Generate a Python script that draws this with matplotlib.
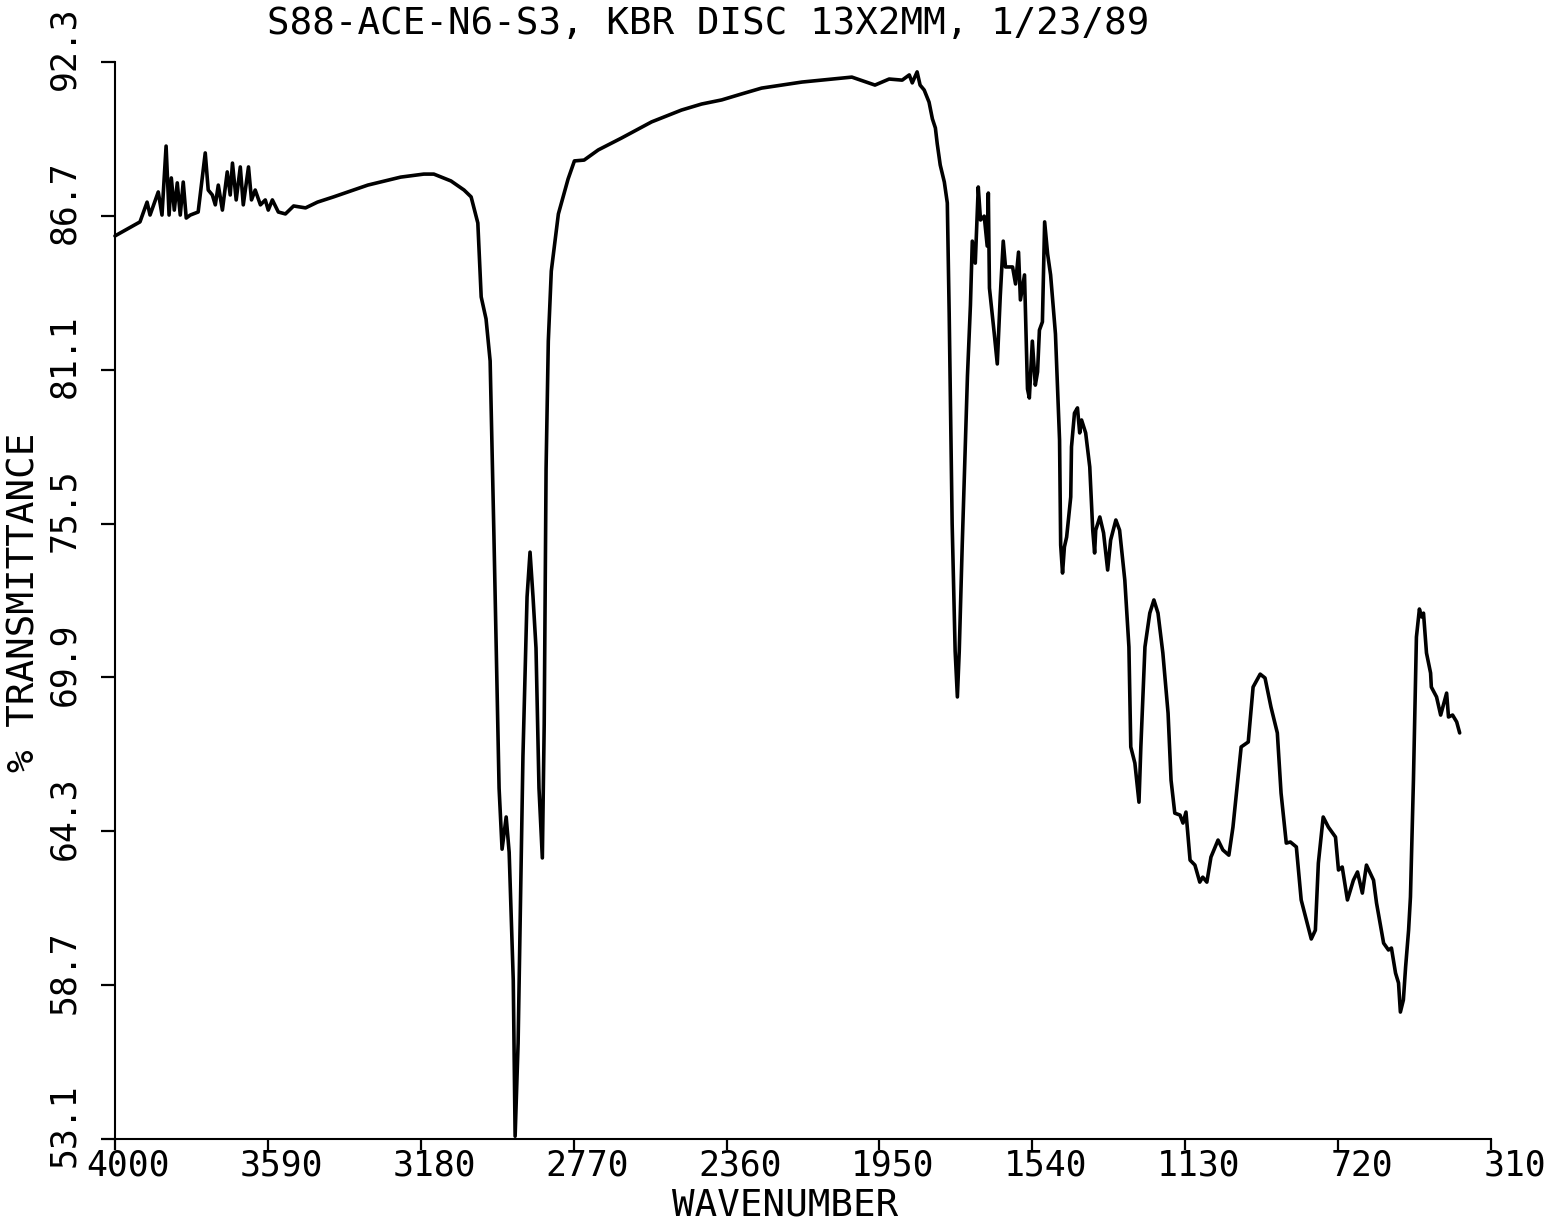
import matplotlib
matplotlib.use("Agg")
import matplotlib.pyplot as plt
from matplotlib.transforms import offset_copy

# ---------------- data ----------------
wavenumber = [
    4000, 3933, 3914, 3906, 3884, 3874, 3863, 3855, 3849, 3841, 3833, 3825, 3817, 3809,
    3798, 3777, 3758, 3750, 3739, 3731, 3723, 3712, 3699, 3691, 3685, 3675, 3664, 3656,
    3642, 3634, 3624, 3610, 3597, 3589, 3578, 3562, 3543, 3521, 3489, 3457, 3414, 3322,
    3234, 3172, 3145, 3099, 3064, 3045, 3027, 3018, 3005, 2994, 2984, 2970, 2962, 2951,
    2943, 2932, 2927, 2919, 2906, 2895, 2887, 2879, 2871, 2863, 2854, 2849, 2844, 2838,
    2830, 2811, 2785, 2768, 2742, 2704, 2642, 2561, 2481, 2427, 2373, 2319, 2266, 2158,
    2077, 2024, 1962, 1924, 1889, 1870, 1862, 1849, 1841, 1830, 1817, 1808, 1800, 1795,
    1787, 1776, 1768, 1763, 1755, 1747, 1741, 1736, 1728, 1714, 1706, 1701, 1693, 1685,
    1679, 1669, 1661, 1658, 1655, 1642, 1634, 1626, 1618, 1612, 1593, 1585, 1577, 1572,
    1561, 1553, 1548, 1540, 1532, 1526, 1521, 1513, 1507, 1499, 1491, 1478, 1467, 1464,
    1459, 1454, 1448, 1437, 1435, 1427, 1419, 1413, 1408, 1397, 1386, 1378, 1373, 1370,
    1359, 1349, 1338, 1330, 1316, 1306, 1292, 1281, 1276, 1265, 1254, 1249, 1238, 1225,
    1214, 1203, 1190, 1176, 1168, 1158, 1144, 1136, 1128, 1117, 1104, 1091, 1083, 1072,
    1061, 1042, 1029, 1013, 1002, 980, 961, 948, 929, 916, 900, 883, 873, 859,
    848, 832, 819, 805, 792, 781, 773, 760, 746, 727, 719, 709, 695, 679,
    668, 655, 644, 625, 617, 598, 585, 577, 566, 558, 553, 545, 539, 531,
    526, 518, 510, 502, 496, 491, 483, 472, 470, 456, 445, 429, 424, 413,
    402, 394,
]
transmittance = [
    85.97, 86.48, 87.20, 86.73, 87.57, 86.73, 89.24, 86.73, 88.08, 86.91, 87.90, 86.73, 87.93, 86.62,
    86.73, 86.84, 88.99, 87.64, 87.46, 87.10, 87.82, 86.91, 88.30, 87.46, 88.62, 87.28, 88.48, 87.10,
    88.48, 87.28, 87.64, 87.10, 87.28, 86.91, 87.28, 86.84, 86.77, 87.06, 86.99, 87.20, 87.39, 87.82,
    88.11, 88.22, 88.22, 87.97, 87.64, 87.39, 86.44, 83.75, 82.95, 81.42, 75.16, 65.87, 63.65, 64.82,
    63.54, 58.88, 53.20, 56.59, 67.04, 72.83, 74.46, 72.83, 70.97, 65.87, 63.33, 68.20, 77.49, 82.14,
    84.69, 86.77, 88.04, 88.70, 88.73, 89.10, 89.53, 90.12, 90.55, 90.77, 90.92, 91.14, 91.35, 91.57,
    91.68, 91.75, 91.46, 91.68, 91.64, 91.83, 91.54, 91.94, 91.46, 91.28, 90.84, 90.23, 89.90, 89.32,
    88.55, 87.93, 87.17, 83.16, 75.48, 70.86, 69.19, 70.86, 74.72, 80.87, 83.45, 85.78, 84.98, 87.75,
    86.55, 86.69, 85.60, 87.53, 84.07, 82.40, 81.31, 83.78, 85.78, 84.84, 84.84, 84.22, 85.38, 83.64,
    84.55, 80.40, 80.07, 82.14, 80.54, 81.02, 82.54, 82.84, 86.48, 85.31, 84.55, 82.40, 78.54, 74.72,
    73.70, 74.65, 75.01, 76.47, 78.29, 79.52, 79.71, 78.80, 79.27, 78.80, 77.56, 75.26, 74.43, 75.26,
    75.74, 75.16, 73.81, 74.90, 75.63, 75.26, 73.44, 71.01, 67.37, 66.78, 65.36, 67.37, 71.01, 72.24,
    72.72, 72.24, 70.79, 68.60, 66.16, 64.96, 64.89, 64.60, 65.00, 63.25, 63.07, 62.45, 62.63, 62.45,
    63.36, 63.98, 63.62, 63.43, 64.45, 67.37, 67.55, 69.55, 70.02, 69.88, 68.82, 67.88, 65.69, 63.87,
    63.91, 63.73, 61.80, 61.07, 60.38, 60.70, 63.14, 64.82, 64.45, 64.09, 62.89, 63.00, 61.80, 62.52,
    62.82, 62.05, 63.07, 62.52, 61.69, 60.23, 59.98, 60.05, 59.14, 58.78, 57.72, 58.16, 59.36, 60.70,
    61.91, 66.16, 71.37, 72.39, 72.10, 72.24, 70.79, 70.06, 69.55, 69.19, 68.53, 69.33, 68.46, 68.53,
    68.28, 67.88,
]

x_ticks = [4000, 3590, 3180, 2770, 2360, 1950, 1540, 1130, 720, 310]
x_tick_labels = ["4000", "3590", "3180", "2770", "2360", "1950", "1540", "1130", "720", "310"]
y_ticks = [53.1, 58.7, 64.3, 69.9, 75.5, 81.1, 86.7, 92.3]
y_tick_labels = ["53.1", "58.7", "64.3", "69.9", "75.5", "81.1", "86.7", "92.3"]

title_text = "S88-ACE-N6-S3, KBR DISC 13X2MM, 1/23/89"
x_label = "WAVENUMBER"
y_label = "% TRANSMITTANCE"

# ---------------- figure ----------------
W, H = 1562, 1228
DPI = 100
FONT = "DejaVu Sans Mono"
plt.rcParams["font.family"] = [FONT, "DejaVu Sans"]

fig = plt.figure(figsize=(W / DPI, H / DPI), dpi=DPI)
ax = fig.add_axes([115 / W, 1 - 1139 / H, (1491 - 115) / W, (1139 - 62) / H])

ax.plot(wavenumber, transmittance, color="black", linewidth=2.6,
        solid_joinstyle="round", solid_capstyle="round", clip_on=False)

ax.set_xlim(4000, 310)
ax.set_ylim(53.1, 92.3)

for s in ("top", "right"):
    ax.spines[s].set_visible(False)
for s in ("left", "bottom"):
    ax.spines[s].set_linewidth(1.5)

ax.set_xticks(x_ticks)
ax.set_yticks(y_ticks)
ax.set_xticklabels([])
ax.set_yticklabels([])
ax.tick_params(axis="x", direction="out", length=8, width=1.6)
ax.tick_params(axis="y", direction="out", length=10, width=1.6)

# x tick labels: right-justified, ending ~55 px right of the tick
xt = offset_copy(ax.get_xaxis_transform(), fig=fig, x=55, y=-27, units="dots")
for v, lab in zip(x_ticks, x_tick_labels):
    ax.text(v, 0, lab, transform=xt, ha="right", va="center",
            fontsize=25, family=FONT, clip_on=False)

# y tick labels: rotated, ending ~55 px above the tick
yt = offset_copy(ax.get_yaxis_transform(), fig=fig, x=-51, y=55, units="dots")
for v, lab in zip(y_ticks, y_tick_labels):
    ax.text(0, v, lab, transform=yt, rotation=90, rotation_mode="anchor",
            ha="right", va="center", fontsize=25, family=FONT, clip_on=False)

fig.text(708 / W, 1 - 24 / H, title_text, ha="center", va="center",
         fontsize=27, family=FONT)
fig.text(785 / W, 1 - 1205 / H, x_label, ha="center", va="center",
         fontsize=27, family=FONT)
fig.text(25 / W, 1 - 602 / H, y_label, ha="center", va="center",
         rotation=90, fontsize=27, family=FONT)

fig.savefig("out.png", dpi=DPI, facecolor="white")
